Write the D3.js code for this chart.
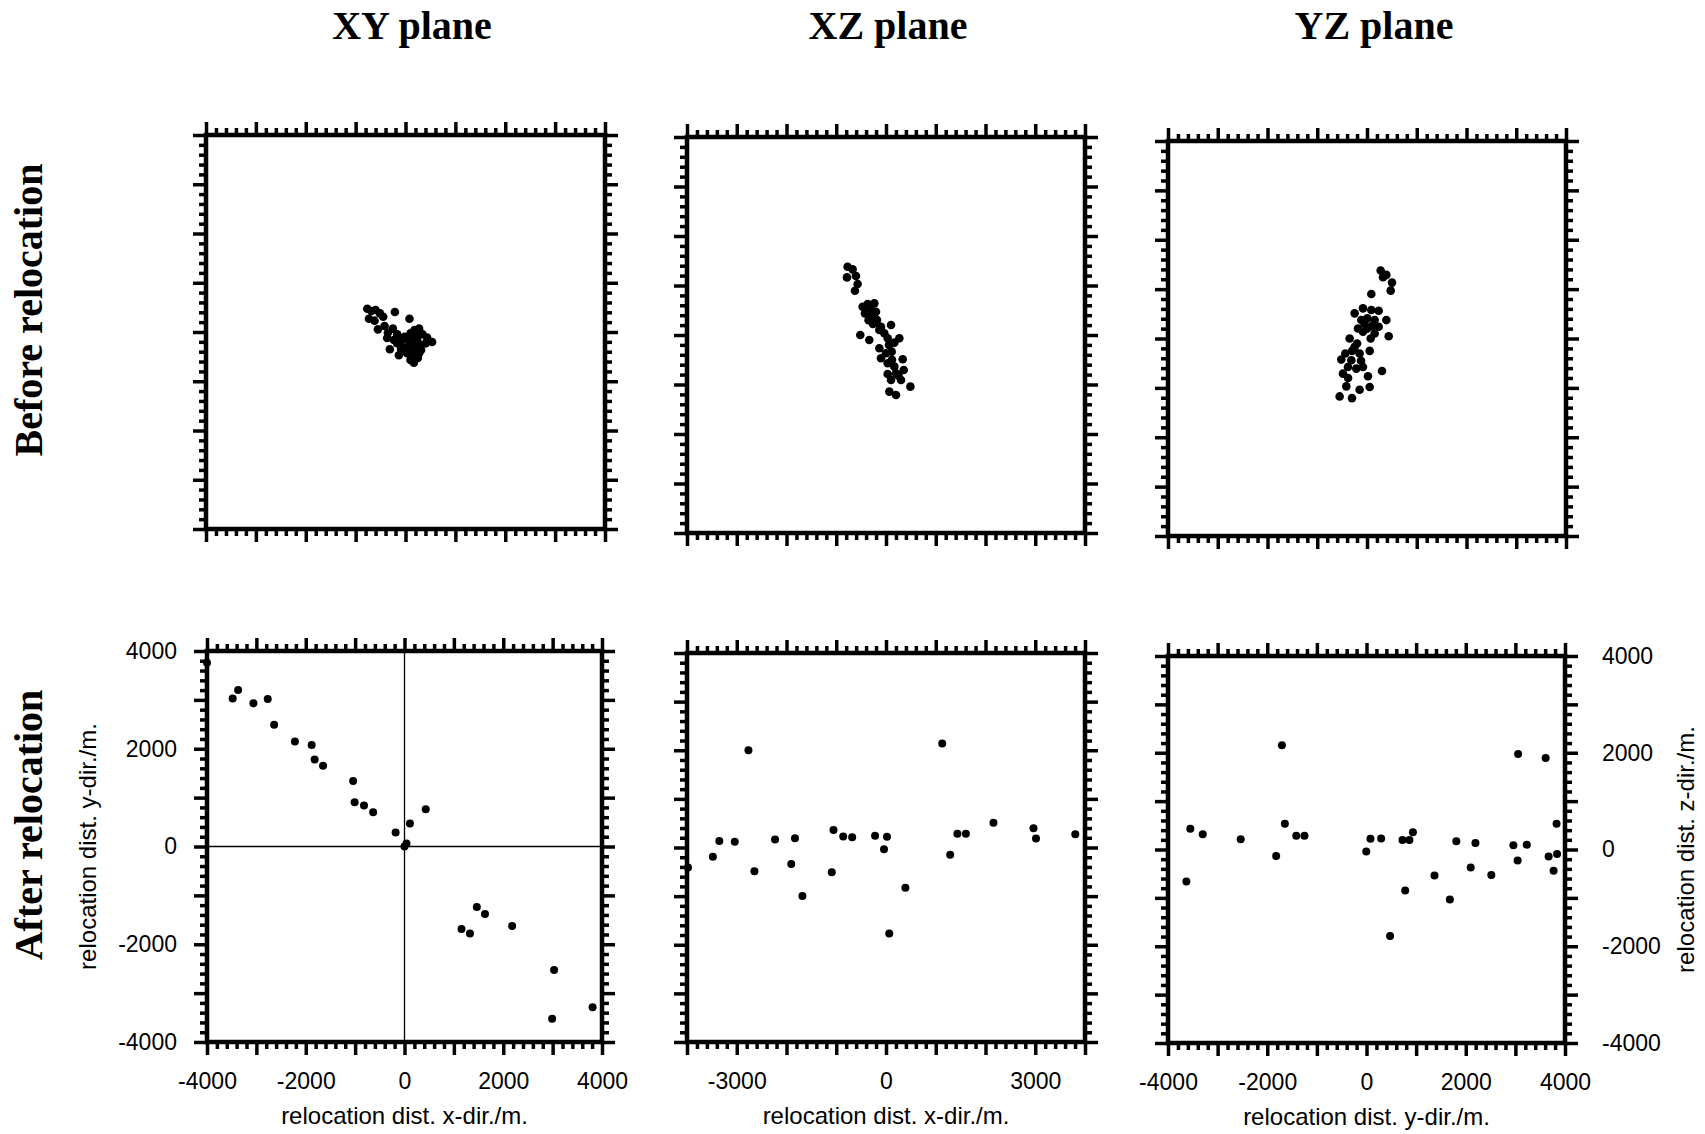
<!DOCTYPE html>
<html><head><meta charset="utf-8">
<script src="https://cdn.jsdelivr.net/npm/d3@7"></script>
<style>body{margin:0;background:#fff}</style>
</head><body>
<svg id="chart" width="1705" height="1134"></svg>
<script>
// ---------- DATA (metres) ----------
const xyBefore = [
 [-767,473],[-687,426],[-600,446],[-513,378],[-733,270],[-620,230],[-447,311],[-213,405],[80,270],
 [-553,54],[-420,122],[-353,-14],[-253,68],[-167,-47],[-233,-162],[-313,-351],[-100,-203],[-20,-95],
 [100,-27],[180,41],[273,68],[340,-47],[433,-115],[533,-203],[407,-230],[-133,-473],[33,-432],
 [100,-568],[167,-622],[247,-527],[313,-365],[207,-284],[100,-230],[7,-324],[-87,-351],[167,-419],
 [273,-432],[133,-351],[233,-149],[67,-162],[-167,-230],[-367,-122],[200,-47],
 [60,-280],[150,-300],[230,-400],[120,-470],[200,-520],[50,-380],[300,-280],[-60,-150],[150,-100],[250,-230]
];
const xzBefore = [
 [-772,1380],[-671,1326],[-785,1164],[-604,1191],[-570,1030],[-624,895],[-470,572],[-369,626],
 [-235,639],[-423,437],[-302,370],[-201,471],[-181,303],[-262,222],[-517,0],[-336,-101],[-101,168],
 [101,202],[-34,34],[-134,101],[34,-67],[268,-67],[168,-155],[-134,-269],[0,-370],[114,-336],
 [336,-491],[-101,-471],[34,-572],[168,-639],[356,-707],[201,-774],[34,-787],[101,-908],[302,-908],
 [490,-1043],[67,-1144],[201,-1211],[-235,357],[-403,505],
 [-300,500],[-250,430],[-350,300],[-200,250],[-100,100],[60,-200],[120,-500],[250,-820]
];
const yzBefore = [
 [275,1376],[389,1288],[503,1132],[476,969],[322,1241],[87,902],[-248,509],[-81,610],[87,576],
 [235,563],[7,407],[154,373],[389,373],[235,237],[436,47],[-181,203],[-81,136],[74,0],[-349,0],
 [-248,-170],[-436,-305],[-517,-427],[-148,-305],[54,-251],[-315,-441],[-215,-610],[-483,-712],
 [-383,-576],[-81,-576],[20,-766],[302,-658],[-416,-969],[-148,-1037],[54,-983],[-550,-1173],
 [-302,-1207],[-114,373],[154,102],
 [-50,300],[0,200],[-200,-100],[-300,-250],[100,250],[-120,-450],[-380,-800]
];
const xyAfter = [
 [-4000,3760],[-3480,3030],[-3370,3200],[-3060,2930],[-2770,3020],[-2640,2490],[-2220,2150],
 [-1880,2075],[-1820,1780],[-1650,1650],[-1040,1340],[-1010,905],[-820,840],[-635,700],[-180,285],
 [110,470],[430,760],[0,0],[40,60],[1155,-1690],[1325,-1780],[1465,-1240],[1630,-1380],
 [2180,-1625],[3030,-2525],[2990,-3525],[3810,-3290]
];
const xzAfter = [
 [-3980,-410],[-3480,-190],[-3350,135],[-3040,120],[-2765,2000],[-2645,-490],[-2230,165],
 [-1905,-340],[-1830,190],[-1680,-995],[-1090,-510],[-1055,360],[-860,225],[-680,210],[-220,240],
 [20,220],[-40,-35],[65,-1770],[390,-830],[1130,2140],[1290,-150],[1435,285],[1605,285],
 [2160,510],[2965,395],[3015,185],[3805,270]
];
const yzAfter = [
 [-3630,-660],[-3550,430],[-3300,315],[-2535,210],[-1820,-135],[-1705,2155],[-1645,530],
 [-1415,285],[-1250,285],[-5,-40],[80,220],[295,225],[475,-1790],[725,195],[865,195],[935,355],
 [780,-850],[1370,-540],[1680,-1035],[1810,170],[2100,-370],[2195,135],[2515,-525],[2960,90],
 [3055,1975],[3045,-225],[3230,100],[3610,1890],[3670,-145],[3770,-440],[3830,530],[3840,-95]
];
const axisDomain = [-4000, 4000];
const majorStep = 1000, minorStep = 200;
const planeTitles = ["XY plane", "XZ plane", "YZ plane"];
const rowTitles = ["Before relocation", "After relocation"];
const xTickLabelsXY = [-4000, -2000, 0, 2000, 4000];
const xTickLabelsXZ = [-3000, 0, 3000];
const xTickLabelsYZ = [-4000, -2000, 0, 2000, 4000];
const yTickLabelsLeft = [-4000, -2000, 0, 2000, 4000];
const yTickLabelsRight = [-4000, -2000, 0, 2000, 4000];
const xAxisTitles = ["relocation dist. x-dir./m.", "relocation dist. x-dir./m.", "relocation dist. y-dir./m."];
const yAxisTitleLeft = "relocation dist. y-dir./m.";
const yAxisTitleRight = "relocation dist. z-dir./m.";

// ---------- LAYOUT ----------
const svg = d3.select("#chart");
const SANS = "'Liberation Sans', Arial, Helvetica, sans-serif";
const SERIF = "'Liberation Serif', 'Times New Roman', serif";
const fmt = d => String(d);

const boxes = [
  {x0:206, x1:605, y0:135, y1:529},
  {x0:687, x1:1085, y0:137, y1:533},
  {x0:1168, x1:1566, y0:141, y1:536},
  {x0:207, x1:602, y0:651, y1:1042},
  {x0:687, x1:1085, y0:653, y1:1042},
  {x0:1168, x1:1565, y0:656, y1:1043}
];
const panelData = [xyBefore, xzBefore, yzBefore, xyAfter, xzAfter, yzAfter];
const xLabelSets = [null, null, null, xTickLabelsXY, xTickLabelsXZ, xTickLabelsYZ];

const majors = d3.range(axisDomain[0], axisDomain[1] + 1, majorStep);
const minors = d3.range(axisDomain[0], axisDomain[1] + 1, minorStep).filter(v => v % majorStep !== 0);

function styleTicks(w) {
  return sel => {
    sel.select(".domain").remove();
    sel.selectAll("text").remove();
    sel.selectAll("line").attr("stroke", "#000").attr("stroke-width", w);
  };
}

boxes.forEach((b, i) => {
  const x = d3.scaleLinear().domain(axisDomain).range([b.x0, b.x1]);
  const y = d3.scaleLinear().domain(axisDomain).range([b.y1, b.y0]);
  const g = svg.append("g");

  const defs = [
    [d3.axisBottom(x), `translate(0,${b.y1})`],
    [d3.axisTop(x), `translate(0,${b.y0})`],
    [d3.axisLeft(y), `translate(${b.x0},0)`],
    [d3.axisRight(y), `translate(${b.x1},0)`]
  ];
  defs.forEach(([ax, tr]) => {
    g.append("g").attr("transform", tr)
      .call(ax.tickValues(minors).tickSize(7).tickFormat(""))
      .call(styleTicks(3.5));
    g.append("g").attr("transform", tr)
      .call(ax.tickValues(majors).tickSize(13).tickFormat(""))
      .call(styleTicks(3.5));
  });

  if (i === 3) {
    g.append("line").attr("x1", x(0)).attr("x2", x(0)).attr("y1", b.y0).attr("y2", b.y1)
      .attr("stroke", "#000").attr("stroke-width", 1.3);
    g.append("line").attr("x1", b.x0).attr("x2", b.x1).attr("y1", y(0)).attr("y2", y(0))
      .attr("stroke", "#000").attr("stroke-width", 1.3);
  }

  g.append("rect").attr("x", b.x0).attr("y", b.y0)
    .attr("width", b.x1 - b.x0).attr("height", b.y1 - b.y0)
    .attr("fill", "none").attr("stroke", "#000").attr("stroke-width", 4.5);

  g.selectAll("circle.pt").data(panelData[i]).join("circle")
    .attr("class", "pt")
    .attr("cx", d => x(d[0])).attr("cy", d => y(d[1]))
    .attr("r", i < 3 ? 4.3 : 4).attr("fill", "#000");

  if (xLabelSets[i]) {
    const xl = g.append("g").attr("transform", `translate(0,${b.y1})`)
      .call(d3.axisBottom(x).tickValues(xLabelSets[i]).tickSize(0).tickPadding(31).tickFormat(fmt));
    xl.select(".domain").remove();
    xl.attr("font-family", SANS).attr("font-size", 23);
    xl.selectAll("text").attr("fill", "#000");
    g.append("text").attr("x", (b.x0 + b.x1) / 2).attr("y", b.y1 + 82)
      .attr("text-anchor", "middle").attr("font-family", SANS).attr("font-size", 24)
      .text(xAxisTitles[i - 3]);
  }
  if (i === 3) {
    const yl = g.append("g").attr("transform", `translate(${b.x0},0)`)
      .call(d3.axisLeft(y).tickValues(yTickLabelsLeft).tickSize(0).tickPadding(30).tickFormat(fmt));
    yl.select(".domain").remove();
    yl.attr("font-family", SANS).attr("font-size", 23);
    yl.selectAll("text").attr("fill", "#000");
    g.append("text").attr("transform", `translate(96,${(b.y0 + b.y1) / 2}) rotate(-90)`)
      .attr("text-anchor", "middle").attr("font-family", SANS).attr("font-size", 24)
      .text(yAxisTitleLeft);
  }
  if (i === 5) {
    const yr = g.append("g").attr("transform", `translate(${b.x1},0)`)
      .call(d3.axisRight(y).tickValues(yTickLabelsRight).tickSize(0).tickPadding(37).tickFormat(fmt));
    yr.select(".domain").remove();
    yr.attr("font-family", SANS).attr("font-size", 23);
    yr.selectAll("text").attr("fill", "#000");
    g.append("text").attr("transform", `translate(1694,${(b.y0 + b.y1) / 2}) rotate(-90)`)
      .attr("text-anchor", "middle").attr("font-family", SANS).attr("font-size", 24)
      .text(yAxisTitleRight);
  }
});

const titleX = [412, 888, 1374];
planeTitles.forEach((t, i) => {
  svg.append("text").attr("x", titleX[i]).attr("y", 39)
    .attr("text-anchor", "middle").attr("font-family", SERIF)
    .attr("font-weight", "bold").attr("font-size", 40).text(t);
});
const rowY = [310, 825];
rowTitles.forEach((t, i) => {
  svg.append("text").attr("transform", `translate(42,${rowY[i]}) rotate(-90)`)
    .attr("text-anchor", "middle").attr("font-family", SERIF)
    .attr("font-weight", "bold").attr("font-size", 40).text(t);
});
</script>
</body></html>
